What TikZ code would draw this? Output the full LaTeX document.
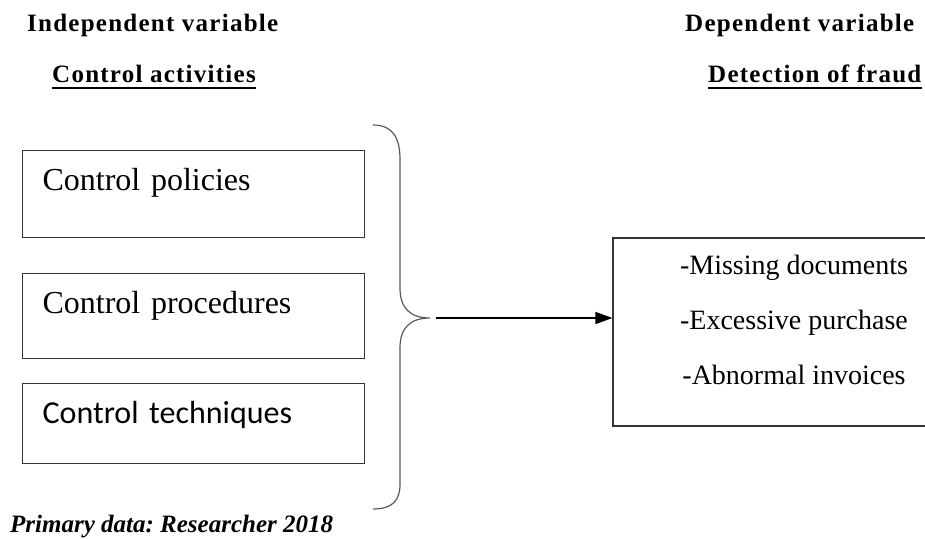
\documentclass[tikz,border=0pt]{standalone}
\usepackage{fontspec}
\setmainfont{Liberation Serif}[BoldFont={Liberation Serif Bold}, ItalicFont={Liberation Serif Italic}, BoldItalicFont={Liberation Serif Bold Italic}]
\newfontfamily\carlito{Carlito}
\newfontfamily\headfont{Liberation Serif Bold}[LetterSpace=5]
\usetikzlibrary{arrows.meta}
\frenchspacing

\begin{document}
\begin{tikzpicture}[x=1pt, y=-1pt,
    titulo/.style={anchor=base west, inner sep=0pt, font=\headfont\fontsize{25}{30}\selectfont},
    caja/.style={draw=black!80, line width=1.2pt, anchor=north west, inner xsep=20pt, inner ysep=0pt,
        text width=302pt, align=left, text height=40pt, font=\fontsize{32}{38}\selectfont},
    raya/.style={line width=2pt},
    llave/.style={draw=black!65, line width=1.2pt},
    flecha/.style={line width=1.5pt, -{Triangle[length=17pt,width=12pt]}}]
% Marco
\useasboundingbox (0,0) rectangle (925,538);

% Titulos
\node[titulo] (indep) at (27,31) {Independent variable};
\node[titulo] (act) at (52,82) {Control activities};
\node[titulo] (dep) at (685,31) {Dependent variable};
\node[titulo] (fraude) at (708,82) {Detection of fraud};
\draw[raya] ([yshift=-6pt]act.base west) -- ([yshift=-6pt]act.base east);
\draw[raya] ([yshift=-6pt]fraude.base west) -- ([yshift=-6pt]fraude.base east);

% Cajas de la izquierda
\node[caja, text depth=47pt] (pol) at (22,150) {Control policies};
\node[caja, text depth=45pt] (proc) at (22,273) {Control procedures};
\node[caja, text depth=40pt, font=\carlito\fontsize{32}{38}\selectfont] (tec) at (22,383) {Control techniques};

% Llave
\coordinate (tip) at (430,318);
\draw[llave] (373,125) .. controls (393,125) and (400,138) .. (400,160) -- (400,288)
    .. controls (400,308) and (410,318) .. (tip)
    .. controls (410,318) and (400,328) .. (400,348) -- (400,484)
    .. controls (400,500) and (393,509) .. (373,509);

% Caja de la derecha
\node[draw=black!80, line width=1.2pt, minimum width=362pt, minimum height=188pt] (sig) at (794,332) {};
\node[anchor=north, inner sep=0pt, align=center, font=\fontsize{28}{55}\selectfont] (items)
    at ([yshift=-17pt]sig.north) {-Missing documents\\-Excessive purchase\\-Abnormal invoices};

% Flecha
\draw[flecha] ([xshift=6pt]tip) -- (sig.west |- tip);

% Fuente
\node[anchor=base west, inner sep=0pt, font=\bfseries\itshape\fontsize{25}{30}\selectfont] (fuente)
    at (10,532) {Primary data: Researcher 2018};

\end{tikzpicture}
\end{document}
